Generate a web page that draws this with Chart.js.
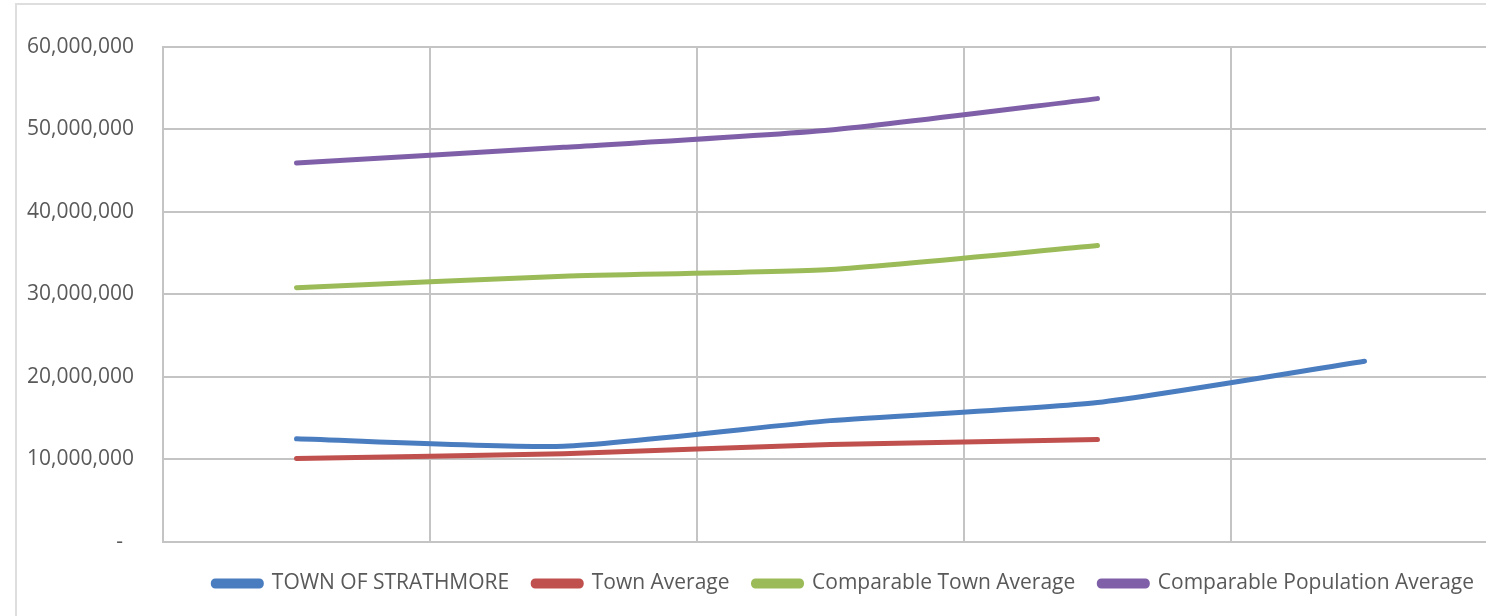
<!DOCTYPE html>
<html>
<head>
<meta charset="utf-8">
<script src="https://cdn.jsdelivr.net/npm/chart.js@4"></script>
<style>
  html, body { margin: 0; padding: 0; background: #fff; overflow: hidden; width: 1486px; height: 616px; }
  #marco { position: absolute; left: 15px; top: 3px; width: 1520px; height: 640px; border: 2px solid #dedede; }
  #grafico { position: absolute; left: 0; top: 0; }
</style>
</head>
<body>
<div id="marco">
  <canvas id="grafico" width="1481" height="599"></canvas>
</div>
<script>
// Datos (5 periodos, sin etiquetas visibles en el eje X)
const periodos = ['1', '2', '3', '4', '5'];
const strathmore = [12500000, 11600000, 14700000, 16900000, 21900000];
const promedioPueblos = [10100000, 10700000, 11800000, 12400000, null];
const promedioComparable = [30800000, 32200000, 33000000, 35900000, null];
const promedioPoblacion = [45900000, 47800000, 49900000, 53700000, null];

const etiquetas = ['TOWN OF STRATHMORE', 'Town Average', 'Comparable Town Average', 'Comparable Population Average'];
const colores = ['#4a7dc0', '#c0504d', '#9bbb59', '#7f60a8'];
const series = [strathmore, promedioPueblos, promedioComparable, promedioPoblacion];

const fuente = "'Open Sans', sans-serif";
const gris = '#595959';
const rejilla = '#c4c4c4';

const ctx = document.getElementById('grafico').getContext('2d');
new Chart(ctx, {
    type: 'line',
    data: {
        labels: periodos,
        datasets: series.map((valores, i) => ({
            label: etiquetas[i],
            data: valores,
            borderColor: colores[i],
            backgroundColor: colores[i],
            borderWidth: 5,
            borderCapStyle: 'round',
            pointRadius: 0,
            tension: 0.2,
            fill: false
        }))
    },
    options: {
        responsive: false,
        animation: false,
        layout: { padding: { top: 39, left: 0, right: 0, bottom: 0 } },
        plugins: {
            tooltip: { enabled: false },
            legend: {
                position: 'bottom',
                align: 'end',
                labels: {
                    color: gris,
                    font: { family: fuente, size: 21 },
                    boxWidth: 48,
                    boxHeight: 5,
                    useBorderRadius: true,
                    borderRadius: 2,
                    padding: 24
                }
            }
        },
        scales: {
            x: {
                offset: true,
                grid: { offset: true, color: rejilla, lineWidth: 2, drawTicks: false },
                border: { color: rejilla, width: 2 },
                ticks: { display: false },
                afterFit: (eje) => { eje.height = 7; }
            },
            y: {
                min: 0,
                max: 60000000,
                grid: { color: rejilla, lineWidth: 2, drawTicks: false },
                border: { color: rejilla, width: 2 },
                ticks: {
                    stepSize: 10000000,
                    padding: 29,
                    color: gris,
                    font: { family: fuente, size: 21 },
                    callback: (v) => v === 0 ? '-  ' : v.toLocaleString('en-US')
                },
                afterFit: (eje) => { eje.width = 146; }
            }
        }
    }
});
</script>
</body>
</html>
